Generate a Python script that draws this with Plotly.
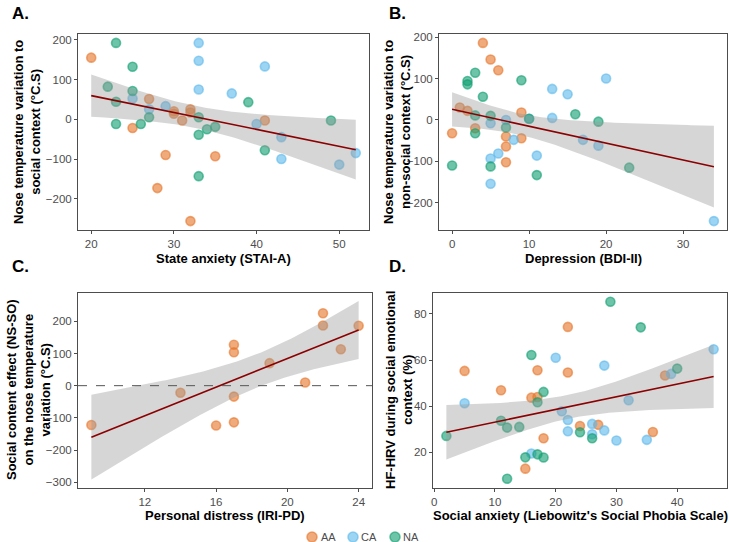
import numpy as np
import plotly.graph_objects as go

W, H = 729, 542
FONT = "Liberation Sans, Arial, sans-serif"

groups = ["AA", "CA", "NA"]
colors = {"AA": (230, 120, 45), "CA": (95, 185, 235), "NA": (20, 160, 115)}

# Panel A: State anxiety (STAI-A) vs nose temp variation to social context
a_x = {
    "AA": [20, 27, 30, 30, 32, 32, 31, 25, 29, 35, 28, 32, 41],
    "CA": [33, 33, 41, 33, 37, 25, 27, 29, 40, 43, 43, 50, 52],
    "NA": [23, 25, 22, 25, 23, 23, 26, 27, 33, 33, 34, 35, 33, 39, 41, 49],
}
a_y = {
    "AA": [155, 51, 20, 14, 25, 17, -3, -22, -90, -93, -173, -256, -3],
    "CA": [192, 147, 133, 75, 65, 52, 25, 33, -12, -45, -100, -114, -85],
    "NA": [192, 132, 82, 71, 44, -12, -12, 5, 5, -39, -25, -19, -143, 43, -78, -3],
}
# Panel B: Depression (BDI-II) vs nose temp variation to non-social context
b_x = {
    "AA": [4, 5, 6, 1, 2, 3, 0, 9, 7, 9, 7, 7],
    "CA": [20, 13, 15, 13, 10, 7, 5, 8, 17, 19, 6, 5, 11, 5, 34],
    "NA": [3, 2, 2, 9, 4, 3, 5, 3, 7, 10, 0, 5, 11, 16, 19, 23],
}
b_y = {
    "AA": [186, 146, 120, 30, 22, -20, -32, 18, -40, -44, -64, -102],
    "CA": [100, 75, 62, 5, 3, 0, -8, -48, -48, -62, -81, -93, -86, -154, -244],
    "NA": [114, 94, 86, 96, 56, 11, 10, -32, -18, 3, -110, -112, -133, 14, -4, -115],
}
# Panel C: Personal distress (IRI-PD) vs social content effect
c_x = {"AA": [9, 14, 16, 17, 17, 17, 17, 19, 21, 22, 22, 23, 24]}
c_y = {"AA": [-122, -22, -124, 127, 104, -34, -114, 70, 10, 225, 187, 113, 186]}
# Panel D: Social anxiety (LSAS) vs HF-HRV
d_x = {
    "AA": [5, 11, 17, 16, 17, 22, 22, 18, 24, 27, 36, 38, 15],
    "CA": [5, 20, 28, 46, 39, 32, 21, 22, 22, 26, 26, 28, 30, 35, 16],
    "NA": [29, 34, 16, 18, 17, 40, 11, 12, 14, 24, 26, 2, 15, 17, 18, 12],
}
d_y = {
    "AA": [55.3, 46.9, 55.6, 43.7, 44, 74.4, 54.6, 26.1, 31.4, 31.9, 28.8, 53.3, 12.9],
    "CA": [41.3, 61, 57.6, 64.7, 54, 42.6, 37.8, 34, 29.1, 32.3, 27.8, 29.5, 25.1, 25.4, 19.5],
    "NA": [85.3, 74.2, 62.2, 46.2, 41.7, 56.3, 33.7, 30.7, 31, 28.7, 26.1, 27.1, 17.8, 19.1, 17.7, 8.5],
}

def px_x(p):
    return p / W

def px_y(p):
    return 1 - p / H

panels = [
    dict(xs=a_x, ys=a_y, dom_x=(78, 369), dom_y=(34, 230), xr=[18.4, 53.6], yr=[-278.4, 214.4],
         xt=[20, 30, 40, 50], yt=[-200, -100, 0, 100, 200]),
    dict(xs=b_x, ys=b_y, dom_x=(439, 727), dom_y=(34, 230), xr=[-1.7, 35.7], yr=[-265.5, 207.5],
         xt=[0, 10, 20, 30], yt=[-200, -100, 0, 100, 200]),
    dict(xs=c_x, ys=c_y, dom_x=(78, 372), dom_y=(293, 488), xr=[8.25, 24.75], yr=[-318, 288],
         xt=[12, 16, 20, 24], yt=[-300, -200, -100, 0, 100, 200]),
    dict(xs=d_x, ys=d_y, dom_x=(433, 727), dom_y=(293, 488), xr=[-0.2, 48.2], yr=[4.5, 89.1],
         xt=[0, 10, 20, 30, 40], yt=[20, 40, 60, 80]),
]

def tcrit(df):
    z = 1.959964
    return (z + (z**3 + z) / (4 * df) + (5 * z**5 + 16 * z**3 + 3 * z) / (96 * df**2)
            + (3 * z**7 + 19 * z**5 + 17 * z**3 - 15 * z) / (384 * df**3))

def rgba(g, a):
    r, gg, b = colors[g]
    return f"rgba({r},{gg},{b},{a})"

fig = go.Figure()
layout = {}
for i, p in enumerate(panels):
    k = "" if i == 0 else str(i + 1)
    xa, ya = "x" + k, "y" + k
    for g in groups:
        if g not in p["xs"]:
            continue
        fig.add_trace(go.Scatter(
            x=p["xs"][g], y=p["ys"][g], mode="markers", name=g, showlegend=False,
            xaxis=xa, yaxis=ya,
            marker=dict(size=9, color=rgba(g, 0.62), line=dict(width=1.6, color=rgba(g, 0.62))),
        ))
    allx = np.concatenate([np.array(p["xs"][g], float) for g in p["xs"]])
    ally = np.concatenate([np.array(p["ys"][g], float) for g in p["ys"]])
    n = len(allx)
    bcoef, acoef = np.polyfit(allx, ally, 1)
    resid = ally - (acoef + bcoef * allx)
    s = np.sqrt(np.sum(resid**2) / (n - 2))
    xbar = allx.mean()
    sxx = np.sum((allx - xbar) ** 2)
    grid = np.linspace(allx.min(), allx.max(), 80)
    fit = acoef + bcoef * grid
    se = s * np.sqrt(1 / n + (grid - xbar) ** 2 / sxx)
    t = tcrit(n - 2)
    up, lo = fit + t * se, fit - t * se
    fig.add_trace(go.Scatter(
        x=np.concatenate([grid, grid[::-1]]), y=np.concatenate([up, lo[::-1]]),
        fill="toself", fillcolor="rgba(153,153,153,0.4)", line=dict(width=0),
        mode="lines", showlegend=False, hoverinfo="skip", xaxis=xa, yaxis=ya))
    fig.add_trace(go.Scatter(
        x=grid, y=fit, mode="lines", line=dict(color="#8B0000", width=1.6),
        showlegend=False, xaxis=xa, yaxis=ya))
    common = dict(showline=True, mirror=True, linecolor="#4D4D4D", linewidth=1,
                  ticks="outside", ticklen=3, tickcolor="#4D4D4D", showgrid=False,
                  zeroline=False, automargin=False,
                  tickfont=dict(size=11.5, color="#4D4D4D", family=FONT))
    layout["xaxis" + k] = dict(domain=[px_x(p["dom_x"][0]), px_x(p["dom_x"][1])],
                               range=p["xr"], tickvals=p["xt"], anchor=ya, **common)
    layout["yaxis" + k] = dict(domain=[px_y(p["dom_y"][1]), px_y(p["dom_y"][0])],
                               range=p["yr"], tickvals=p["yt"], anchor=xa, **common)

fig.update_layout(**layout)

ann = []
shapes = []
def add_text(text, x, y, size=13, angle=0, bold=True, color="black"):
    ann.append(dict(text=f"<b>{text}</b>" if bold else text, x=px_x(x), y=px_y(y),
                    xref="paper", yref="paper", showarrow=False, textangle=angle,
                    xanchor="center", yanchor="middle",
                    font=dict(size=size, color=color, family=FONT)))

add_text("A.", 20, 13, size=17)
add_text("B.", 397, 13, size=17)
add_text("C.", 20, 266, size=17)
add_text("D.", 397, 266, size=17)
add_text("Nose temperature variation to<br>social context (°C.S)", 27, 132, angle=-90)
add_text("Nose temperature variation to<br>non-social context (°C.S)", 397, 132, angle=-90)
add_text("Social content effect (NS-SO)<br>on the nose temperature<br>variation (°C.S)", 28, 390, angle=-90)
add_text("HF-HRV during social emotional<br>context (%)", 399, 390, angle=-90)
add_text("State anxiety (STAI-A)", 223.5, 258)
add_text("Depression (BDI-II)", 583, 258)
add_text("Personal distress (IRI-PD)", 225, 515.5)
add_text("Social anxiety (Liebowitz's Social Phobia Scale)", 580, 515.5)

# legend (drawn manually to match ggplot's compact bottom legend)
leg_cx = [312, 353, 395]
leg_y = 537
for g, cx in zip(groups, leg_cx):
    shapes.append(dict(type="circle", xref="paper", yref="paper",
                       x0=px_x(cx - 5), x1=px_x(cx + 5), y0=px_y(leg_y + 5), y1=px_y(leg_y - 5),
                       fillcolor=rgba(g, 0.62), line=dict(color=rgba(g, 0.62), width=1.6)))
    add_text(g, cx + 16, leg_y, size=11, bold=False, color="#4D4D4D")

shapes.append(dict(type="line", xref="x3 domain", yref="y3", x0=0, x1=1, y0=0, y1=0,
                   line=dict(color="#555555", width=1, dash="dash"), layer="above"))

fig.update_layout(
    width=W, height=H, margin=dict(l=0, r=0, t=0, b=0),
    paper_bgcolor="white", plot_bgcolor="white",
    annotations=ann, shapes=shapes, showlegend=False,
    font=dict(family=FONT),
)
fig.write_html("out.html")
